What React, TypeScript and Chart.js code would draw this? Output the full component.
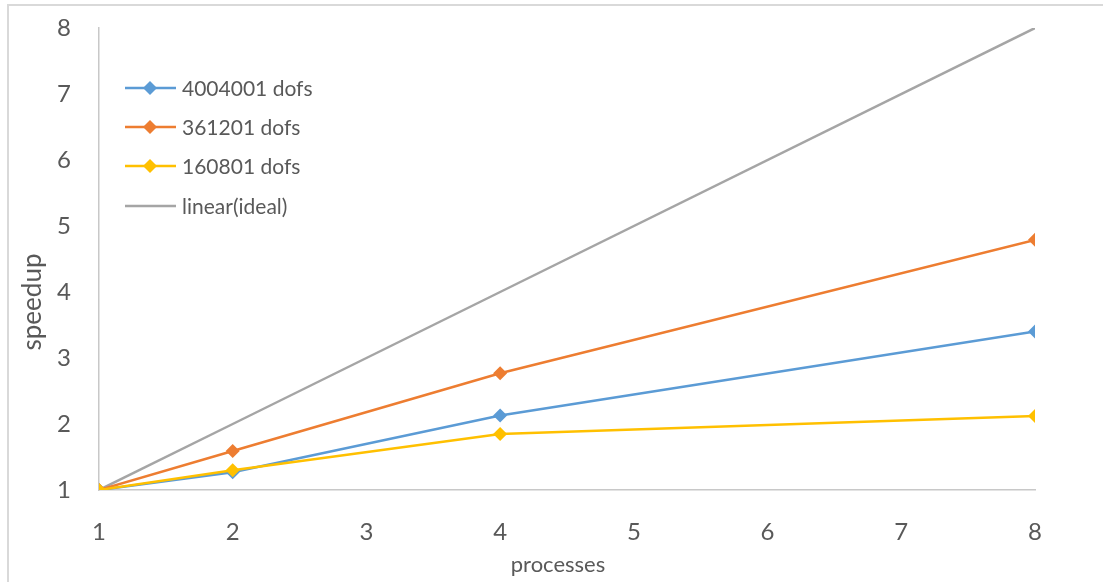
import React, { useEffect, useRef } from "react";
import { Chart, registerables } from "chart.js";

Chart.register(...registerables);

const processes = [1, 2, 4, 8];
const seriesNames = ["4004001 dofs", "361201 dofs", "160801 dofs", "linear(ideal)"];
const speedup4004001 = [1, 1.27, 2.13, 3.4];
const speedup361201 = [1, 1.59, 2.77, 4.79];
const speedup160801 = [1, 1.3, 1.85, 2.12];
const speedupLinear = [1, 2, 4, 8];
const xTicks = [1, 2, 3, 4, 5, 6, 7, 8];
const yTicks = [1, 2, 3, 4, 5, 6, 7, 8];
const xTitle = "processes";
const yTitle = "speedup";

const COLORS = ["#5B9BD5", "#ED7D31", "#FFC000", "#A5A5A5"];
const FONT = "Lato, 'Noto Sans', sans-serif";
const TEXT = "#595959";

const legendPlugin = {
  id: "insideLegend",
  afterDraw(chart: any) {
    const ctx = chart.ctx;
    const x0 = 116;
    const rows = [82, 121, 160, 200];
    ctx.save();
    chart.data.datasets.forEach((ds: any, i: number) => {
      const y = rows[i];
      ctx.strokeStyle = ds.borderColor;
      ctx.lineWidth = 2.5;
      ctx.beginPath();
      ctx.moveTo(x0, y);
      ctx.lineTo(x0 + 51, y);
      ctx.stroke();
      if (ds.pointRadius > 0) {
        const r = 7;
        const cx = x0 + 25;
        ctx.fillStyle = ds.borderColor;
        ctx.beginPath();
        ctx.moveTo(cx, y - r);
        ctx.lineTo(cx + r, y);
        ctx.lineTo(cx, y + r);
        ctx.lineTo(cx - r, y);
        ctx.closePath();
        ctx.fill();
      }
      ctx.fillStyle = TEXT;
      ctx.font = `21px ${FONT}`;
      ctx.textBaseline = "middle";
      ctx.textAlign = "left";
      ctx.fillText(ds.label, x0 + 57, y + 1);
    });
    ctx.restore();
  },
};

const axisTitlePlugin = {
  id: "axisTitles",
  afterDraw(chart: any) {
    const ctx = chart.ctx;
    ctx.save();
    ctx.fillStyle = TEXT;
    ctx.textAlign = "center";
    ctx.textBaseline = "middle";
    ctx.font = `22px ${FONT}`;
    ctx.fillText(xTitle, 549, 559);
    ctx.translate(24, 296);
    ctx.rotate(-Math.PI / 2);
    ctx.font = `26px ${FONT}`;
    ctx.fillText(yTitle, 0, 0);
    ctx.restore();
  },
};

export default function App() {
  const ref = useRef<HTMLCanvasElement | null>(null);
  useEffect(() => {
    if (!ref.current) return;
    const mk = (i: number, data: number[], marker: boolean, order: number) => ({
      label: seriesNames[i],
      data: processes.map((p, k) => ({ x: p, y: data[k] })),
      borderColor: COLORS[i],
      backgroundColor: COLORS[i],
      borderWidth: 2.5,
      pointStyle: "rectRot",
      pointRadius: marker ? 7 : 0,
      pointHoverRadius: marker ? 7 : 0,
      pointBorderWidth: 0,
      tension: 0,
      order,
    });
    const chart = new Chart(ref.current, {
      type: "line",
      data: {
        datasets: [
          mk(0, speedup4004001, true, 3),
          mk(1, speedup361201, true, 2),
          mk(2, speedup160801, true, 1),
          mk(3, speedupLinear, false, 4),
        ],
      },
      options: {
        animation: false,
        responsive: false,
        maintainAspectRatio: false,
        layout: { padding: { left: 0, top: 22, right: 68, bottom: 0 } },
        plugins: {
          legend: { display: false },
          tooltip: { enabled: false },
        },
        scales: {
          x: {
            type: "linear",
            min: 1,
            max: 8,
            afterBuildTicks: (s: any) => {
              s.ticks = xTicks.map((v) => ({ value: v }));
            },
            afterFit: (s: any) => {
              s.height = 92;
              s.paddingLeft = 0;
              s.paddingRight = 0;
            },
            grid: { display: false, drawTicks: false },
            border: { display: true, color: "#C8C8C8", width: 1.5 },
            ticks: {
              padding: 28,
              color: TEXT,
              font: { family: FONT, size: 24 },
              maxRotation: 0,
            },
            title: { display: false },
          },
          y: {
            type: "linear",
            min: 1,
            max: 8,
            afterBuildTicks: (s: any) => {
              s.ticks = yTicks.map((v) => ({ value: v }));
            },
            afterFit: (s: any) => {
              s.width = 90;
              s.paddingTop = 0;
              s.paddingBottom = 0;
            },
            grid: { display: false, drawTicks: false },
            border: { display: true, color: "#C8C8C8", width: 1.5 },
            ticks: {
              padding: 28,
              color: TEXT,
              font: { family: FONT, size: 24 },
            },
            title: { display: false },
          },
        },
      },
      plugins: [legendPlugin, axisTitlePlugin],
    } as any);
    return () => chart.destroy();
  }, []);

  return (
    <div style={{ position: "fixed", left: 0, top: 0, width: 1103, height: 582, overflow: "hidden", background: "#fff" }}>
      <div
        style={{
          position: "absolute",
          left: 7,
          top: 4,
          width: 1130,
          height: 620,
          border: "2px solid #D9D9D9",
          boxSizing: "border-box",
        }}
      />
      <canvas
        ref={ref}
        width={1094}
        height={576}
        style={{ position: "absolute", left: 9, top: 6, width: 1094, height: 576 }}
      />
    </div>
  );
}
